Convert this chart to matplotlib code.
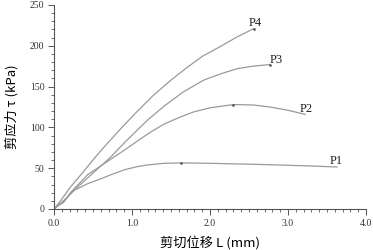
"""Shear stress vs shear displacement curves for samples P1-P4."""

import matplotlib
matplotlib.use("Agg")
import matplotlib.pyplot as plt
from matplotlib.ticker import MultipleLocator, FormatStrFormatter

# values
p1_x = [0, 0.05, 0.13, 0.26, 0.43, 0.6, 0.73, 0.9, 1.07, 1.2, 1.41, 1.63,
        2.0, 2.68, 3.2, 3.63]
p1_y = [0, 4, 11, 23, 31, 37, 42, 48, 52, 54, 56, 56.5, 56, 54.5, 53, 51.5]

p2_x = [0, 0.05, 0.12, 0.21, 0.33, 0.43, 0.68, 0.9, 1.11, 1.25, 1.41, 1.6,
        1.79, 2.0, 2.30, 2.55, 2.77, 3.0, 3.22]
p2_y = [0, 5, 8, 20, 32, 42, 58, 72, 86, 95, 104, 112, 119, 124, 128, 127.5,
        125, 121, 116]

p3_x = [0, 0.05, 0.12, 0.21, 0.43, 0.73, 0.9, 1.07, 1.2, 1.41, 1.65, 1.92,
        2.15, 2.35, 2.55, 2.77]
p3_y = [0, 4, 8, 19, 38, 64, 81, 97, 109, 126, 143, 158, 166, 172, 175, 177]

p4_x = [0, 0.05, 0.09, 0.21, 0.3, 0.43, 0.55, 0.68, 0.89, 1.03, 1.27, 1.5,
        1.70, 1.9, 2.13, 2.35, 2.56]
p4_y = [0, 6, 11, 27, 37, 52, 66, 80, 102, 116, 139, 158, 173, 187, 199, 211,
        221]

curve_names = ["P1", "P2", "P3", "P4"]
label_x = [3.54, 3.15, 2.76, 2.49]
label_y = [58.5, 123, 183, 228]
peak_x = [1.63, 2.30, 2.77, 2.56]
peak_y = [56.5, 128, 177, 221]

LINE_COLOR = "#9a9a9a"
AXIS_COLOR = "#555555"
SERIF = "Liberation Serif"
CJK = ["Noto Sans CJK SC", "DejaVu Sans"]

fig = plt.figure(figsize=(3.73, 2.5), dpi=100)
ax = fig.add_axes([0.145, 0.164, 0.836, 0.816])

curves = [(p1_x, p1_y), (p2_x, p2_y), (p3_x, p3_y), (p4_x, p4_y)]
for (xs, ys) in curves:
    ax.plot(xs, ys, color=LINE_COLOR, linewidth=0.9)

ax.scatter(peak_x, peak_y, s=0.8, color="#555555", zorder=3)

for name, lx, ly in zip(curve_names, label_x, label_y):
    ax.text(lx, ly, name, ha="left", va="center", fontsize=9,
            family=SERIF, color="#222222")

ax.set_xlim(0, 4.0)
ax.set_ylim(0, 250)
ax.xaxis.set_major_locator(MultipleLocator(1.0))
ax.xaxis.set_minor_locator(MultipleLocator(0.1))
ax.yaxis.set_major_locator(MultipleLocator(50))
ax.yaxis.set_minor_locator(MultipleLocator(10))
ax.xaxis.set_major_formatter(FormatStrFormatter("%.1f"))

for side in ["top", "right"]:
    ax.spines[side].set_visible(False)
for side in ["left", "bottom"]:
    ax.spines[side].set_color(AXIS_COLOR)
    ax.spines[side].set_linewidth(0.8)

ax.tick_params(which="major", direction="out", length=4, width=0.7,
               color=AXIS_COLOR, labelsize=7, labelcolor="#333333", pad=3)
ax.tick_params(which="minor", direction="out", length=2, width=0.6,
               color=AXIS_COLOR)
for lab in ax.get_xticklabels() + ax.get_yticklabels():
    lab.set_family(SERIF)

ax.set_xlabel("剪切位移 L (mm)", family=CJK, fontsize=9.5, labelpad=6)
ax.set_ylabel("剪应力 τ (kPa)", family=CJK, fontsize=9.5, labelpad=8)

fig.savefig("out.png", dpi=100)
